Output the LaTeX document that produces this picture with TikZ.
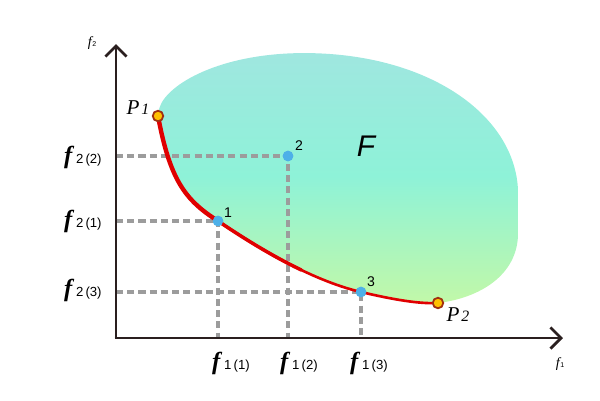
\documentclass[tikz,border=0pt]{standalone}
\usepackage{fontspec}
\setmainfont{Liberation Serif}
\setsansfont{Liberation Sans}
\usetikzlibrary{arrows.meta}
\definecolor{axiscol}{HTML}{2A1F1F}
\definecolor{dashcol}{HTML}{9C9C9C}
\definecolor{redcol}{HTML}{E00000}
\definecolor{bluedot}{HTML}{4DB0E8}
\definecolor{yellowdot}{HTML}{FFC000}
\definecolor{rimcol}{HTML}{A03010}
\definecolor{ftop}{HTML}{A0E6E0}
\definecolor{fmid}{HTML}{8EF2D8}
\definecolor{fbot}{HTML}{C2F8A8}
\tikzset{
  axisline/.style={draw=axiscol,line width=1.6pt,-{Straight Barb[length=6pt,width=12pt,line width=1.6pt]}},
  dashline/.style={draw=dashcol,line width=1.8pt,dash pattern=on 4pt off 2.4pt},
  bdot/.style={circle,fill=bluedot,inner sep=0pt,minimum size=6pt},
  ydot/.style={circle,fill=yellowdot,draw=rimcol,line width=1pt,inner sep=0pt,minimum size=6pt},
  ptlab/.style={font=\sffamily\fontsize{8}{8}\selectfont,inner sep=0pt},
  axlab/.style={font=\fontsize{8}{8}\selectfont\itshape,inner sep=0pt},
  front/.style={draw=redcol,line cap=round},
}
\newcommand{\fval}[2]{\textbf{\textit{\fontsize{14}{14}\selectfont f}}\kern1pt{\sffamily\fontsize{7.5}{8}\selectfont #1\,(#2)}}
\begin{document}
\begin{tikzpicture}[x=0.02cm,y=-0.02cm]
\useasboundingbox (0,0) rectangle (600,400);
% region F
\shade[top color=ftop,bottom color=fbot,middle color=fmid]
  (158,116) .. controls (170,180) and (185,200) .. (218,221)
  .. controls (255,246) and (310,280) .. (361,292)
  .. controls (395,300) and (420,304) .. (438,303)
  .. controls (480,298) and (517,275) .. (518,235)
  -- (518,190) .. controls (515,120) and (440,62) .. (330,54)
  .. controls (240,47.5) and (178,76) .. (162,102)
  .. controls (159,108) and (158,112) .. (158,116) -- cycle;
\node[font=\sffamily\itshape\fontsize{17}{17}\selectfont] (F) at (366,146) {F};
% coordinates
\coordinate (O) at (116,338);
\coordinate (Ytop) at (116,44);
\coordinate (Xend) at (563,338);
\node[bdot] (p1) at (218,221) {};
\node[bdot] (p2) at (288,156) {};
\node[bdot] (p3) at (361,292) {};
\coordinate (y1) at (116,221);
\coordinate (y2) at (116,156);
\coordinate (y3) at (116,292);
\coordinate (x1) at (218,338);
\coordinate (x2) at (288,338);
\coordinate (x3) at (361,338);
% dashed guides
\draw[dashline] (y2) -- (p2.center) -- (x2);
\draw[dashline] (y1) -- (p1.center) -- (x1);
\draw[dashline] (y3) -- (p3.center) -- (x3);
% pareto front (tapering)
\draw[front,line width=1.5pt] (218,221)
  .. controls (255,246) and (310,280) .. (361,292)
  .. controls (395,300) and (420,304) .. (438,303);
\draw[front,line width=2.0pt,dash pattern=on 55pt off 900pt] (218,221)
  .. controls (255,246) and (310,280) .. (361,292);
\draw[front,line width=2.5pt] (158,116) .. controls (170,180) and (185,200) .. (218,221);
% axes
\draw[axisline] (O) -- (Ytop);
\draw[axisline] ([xshift=-0.8pt]O) -- (Xend);
% points
\node[bdot] at (p1) {};
\node[bdot] at (p2) {};
\node[bdot] at (p3) {};
\node[ydot] (P1) at (158,116) {};
\node[ydot] (P2) at (438,303) {};
% point labels
\node[ptlab] at (228,213) {1};
\node[ptlab] at (299,146) {2};
\node[ptlab] at (371,282) {3};
\node[font=\itshape\fontsize{12}{12}\selectfont,inner sep=0pt] (P1lab) at (138,108) {P\kern1pt{\fontsize{9}{9}\selectfont 1}};
\node[font=\itshape\fontsize{12}{12}\selectfont,inner sep=0pt] (P2lab) at (458,315) {P\kern1pt{\fontsize{9}{9}\selectfont 2}};
% axis labels
\node[axlab] (f2ax) at (92,43) {f\kern0.3pt{\upshape\sffamily\fontsize{4}{4}\selectfont 2}};
\node[axlab] (f1ax) at (560,364) {f\kern0.3pt{\upshape\sffamily\fontsize{4}{4}\selectfont 1}};
% value labels
\node[anchor=east,inner sep=0pt] (l22) at (102,157) {\fval{2}{2}};
\node[anchor=east,inner sep=0pt] (l21) at (102,221) {\fval{2}{1}};
\node[anchor=east,inner sep=0pt] (l23) at (102,290) {\fval{2}{3}};
\node[inner sep=0pt] (l11) at (231,363) {\fval{1}{1}};
\node[inner sep=0pt] (l12) at (299,363) {\fval{1}{2}};
\node[inner sep=0pt] (l13) at (369,363) {\fval{1}{3}};
\end{tikzpicture}
\end{document}
